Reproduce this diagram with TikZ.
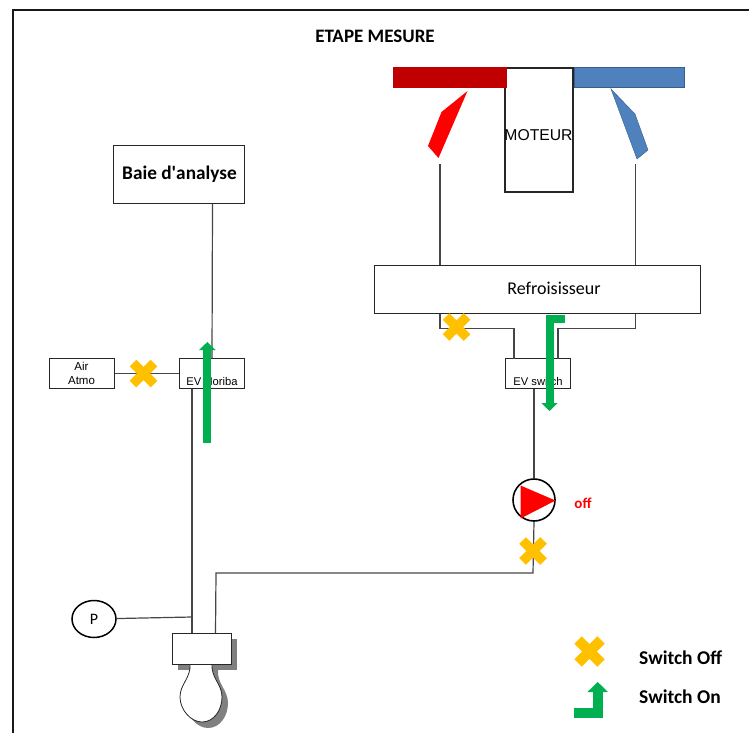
\documentclass[tikz,border=0pt]{standalone}
\usepackage{fontspec}
\setmainfont{Carlito}
\newfontfamily\arialfont{Liberation Sans}
\usetikzlibrary{arrows.meta,positioning,shapes.misc,shapes.geometric}
\definecolor{swoff}{RGB}{255,192,0}
\definecolor{swon}{RGB}{0,176,80}
\definecolor{chaud}{RGB}{192,0,0}
\definecolor{froid}{RGB}{79,129,189}
\definecolor{froidbord}{RGB}{56,93,138}
\definecolor{pipe}{RGB}{70,70,70}
\newcommand{\ballon}{(190,664) .. controls (191,678) and (180,684) .. (180,697) .. controls (180,710) and (191,722) .. (202,722) .. controls (214,722) and (222,710) .. (222,697) .. controls (222,684) and (211,678) .. (212,664) -- cycle}
\tikzset{
  boite/.style={draw=black!85,fill=white,line width=1pt,inner sep=0pt,align=center},
  tuyau/.style={draw=pipe,line width=1.2pt},
  croix/.style={cross out,draw=swoff,line width=9.5pt,minimum size=21pt,inner sep=0pt,outer sep=0pt},
  fleche/.style={draw=swon,line width=8pt,-{Triangle[length=8pt,width=16pt]}},
  texte/.style={inner sep=0pt,font=\fontsize{#1}{#1}\selectfont},
  gras/.style={inner sep=0pt,font=\fontsize{#1}{#1}\selectfont\bfseries},
  petit/.style={inner sep=0pt,font=\arialfont\fontsize{#1}{14.5}\selectfont}
}
\begin{document}
\begin{tikzpicture}[x=1pt,y=-1pt]
  \useasboundingbox (0,0) rectangle (749,733);
  % cadre
  \draw[black!90,line width=2pt] (12.5,733) -- (12.5,10.5) -- (749,10.5);
  \node[gras=19] (titre) at (375,36) {ETAPE MESURE};
  % moteur et collecteurs
  \node[boite,line width=2pt,minimum width=68pt,minimum height=124pt] (moteur) at (538.5,130) {};
  \node[petit=15.7] (moteurtxt) at (538.5,135) {MOTEUR};
  \node[fill=chaud,minimum width=114pt,minimum height=21pt,inner sep=0pt] (chaud) at (449.5,78) {};
  \node[draw=froidbord,line width=1pt,fill=froid,minimum width=110pt,minimum height=20pt,inner sep=0pt] (froid) at (629,78) {};
  \fill[red] (467.5,91) -- (441.5,112) -- (428,146) -- (438.5,158) -- cycle;
  \filldraw[fill=froid,draw=froidbord] (611,89) -- (635,114) -- (648,150) -- (637,159) -- cycle;
  % refroidisseur
  \node[boite,minimum width=326pt,minimum height=48pt] (refroid) at (537.5,289) {};
  \node[texte=18] (refroidtxt) at (554,288) {Refroisisseur};
  \coordinate (entreeC) at (440,164);
  \coordinate (entreeF) at (635.5,164);
  \draw[tuyau] (entreeC) -- (entreeC |- refroid.north);
  \draw[tuyau] (entreeF) -- (entreeF |- refroid.north);
  % ev switch
  \node[boite,minimum width=65pt,minimum height=30pt] (evswitch) at (537.5,373.5) {};
  \node[petit=11.2] (evswitchtxt) at (538,381.5) {EV switch};
  \coordinate (entreeA) at (514,358.5);
  \coordinate (entreeB) at (558,358.5);
  \draw[tuyau] (entreeC |- refroid.south) |- (entreeA |- 0,328.5) -- (entreeA);
  \draw[tuyau] (entreeF |- refroid.south) |- (entreeB |- 0,328.5) -- (entreeB);
  \node[croix] (croixR) at (456.5,327) {};
  \draw[fleche] (565,318.5) -- (549.5,318.5) -- (549.5,411);
  % baie d'analyse
  \node[boite,minimum width=131pt,minimum height=58pt] (baie) at (179,174.5) {};
  \node[gras=19.3] (baietxt) at (179.5,174) {Baie d\textquotesingle analyse};
  \node[boite,minimum width=65pt,minimum height=30pt] (evhoriba) at (212,373.5) {};
  \node[petit=11.2] (evhoribatxt) at (212,381.5) {EV Horiba};
  \coordinate (sortieB) at (212.5,203.5);
  \coordinate (sortieH) at (212,358.5);
  \draw[tuyau] (sortieB) -- (sortieH);
  \node[boite,minimum width=65pt,minimum height=30pt,petit=11.5] (air) at (81.5,373.5) {Air\\Atmo};
  \draw[tuyau] (air) -- (evhoriba);
  \node[croix] (croixA) at (143.5,373.5) {};
  \draw[fleche] (207.3,443) -- (207.3,342);
  % pompe
  \node[circle,draw=black,fill=white,line width=1.6pt,minimum size=42pt,inner sep=0pt] (pompe) at (534,500) {};
  \fill[red] (520.5,485.5) -- (555.5,500.5) -- (520.5,518.5) -- cycle;
  \node[gras=15,text=red] (off) at (583,503) {off};
  \draw[tuyau] (evswitch.south -| pompe.north) -- (pompe.north);
  \coordinate (coude) at (533,573);
  \coordinate (arrivee) at (215.5,633);
  \draw[tuyau] (pompe.south) -- (coude) -- (216,573) -- (arrivee);
  \node[croix] (croixP) at (533,551) {};
  % ballon
  \fill[black!50,shift={(6,6)}] \ballon;
  \fill[black!50] (178,639) rectangle (237,670);
  \draw[black!85,fill=white,line width=0.8pt] \ballon;
  \node[boite,minimum width=59pt,minimum height=31pt] (melange) at (201.5,648.5) {};
  \coordinate (depart) at (192,388.5);
  \coordinate (piquage) at (192,617);
  \draw[tuyau] (depart) -- (depart |- melange.north);
  % capteur de pression
  \node[ellipse,draw=black,fill=white,line width=1.5pt,minimum width=44pt,minimum height=37pt,inner sep=0pt,font=\fontsize{16}{16}\selectfont] (capteur) at (94,619) {P};
  \draw[tuyau] (capteur) -- (piquage);
  % legende
  \node[croix,line width=10.5pt,minimum size=23pt] (legoff) at (589.5,651.5) {};
  \node[gras=19.5,anchor=west] (legofftxt) at (639,658) {Switch Off};
  \draw[swon,line width=10pt,-{Triangle[length=10pt,width=20pt]}] (574,713) -- (597.7,713) -- (597.7,682);
  \node[gras=19.5,anchor=west] (legontxt) at (639,697) {Switch On};
\end{tikzpicture}
\end{document}
